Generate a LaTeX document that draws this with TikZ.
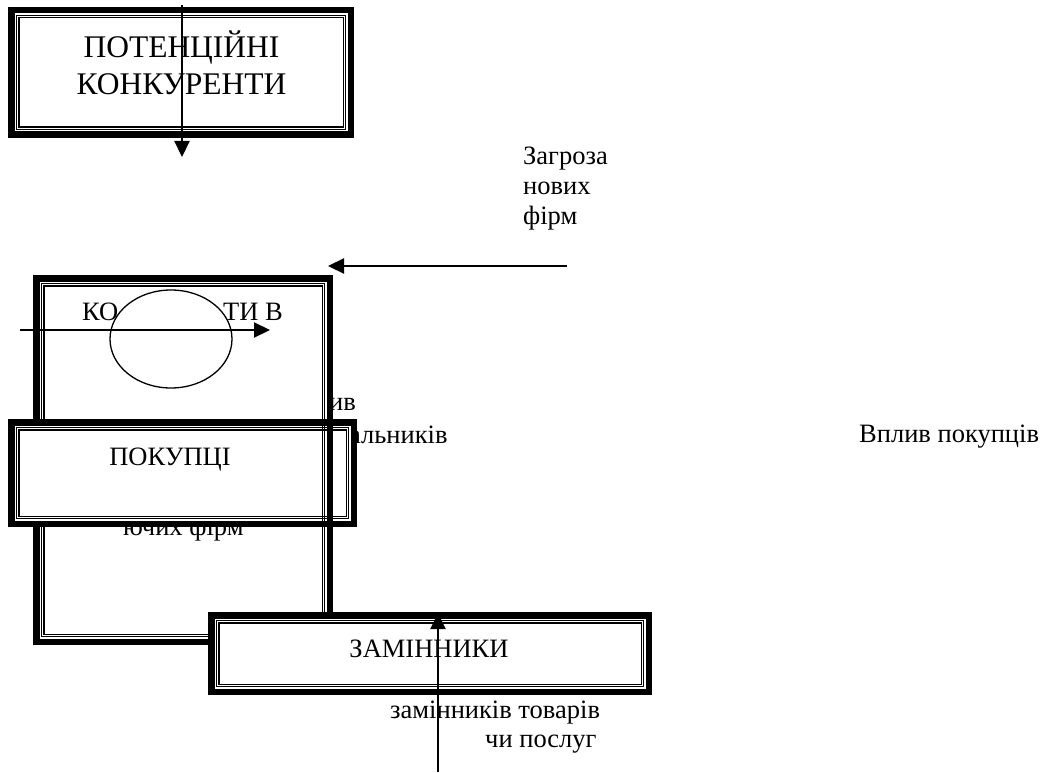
\documentclass[tikz,border=0pt]{standalone}
\usepackage{fontspec}
\setmainfont{Liberation Serif}
\usetikzlibrary{arrows.meta,calc,shapes.geometric}

\tikzset{
  framebox/.style={draw, fill=white, line width=6.5pt, rectangle, outer sep=0pt, inner sep=0pt},
  rulethin/.style={line width=0.7pt},
  rulemid/.style={line width=1.3pt},
  caption/.style={inner sep=0pt, font=\fontsize{26.5pt}{30pt}\selectfont},
  bigtitle/.style={inner sep=0pt, font=\fontsize{31.5pt}{37pt}\selectfont},
  force/.style={line width=2.2pt, -{Triangle[length=16pt,width=15pt]}},
  oval/.style={draw, ellipse, fill=white, line width=1.3pt, inner sep=0pt},
}

% thick-thin framed box given by its outer edges: name, x1, y1, x2, y2
\newcommand\forcebox[5]{%
  \node[framebox, minimum width={#4-#2-6.5}, minimum height={#5-#3-6.5}]
    (#1) at ({(#2+#4)/2},{(#3+#5)/2}) {};
  \draw[rulethin] ($(#1.north west)+(5.45,5.45)$) rectangle ($(#1.south east)-(5.45,5.45)$);
  \draw[rulemid]  ($(#1.north west)+(7.6,7.6)$) rectangle ($(#1.south east)-(7.6,7.6)$);
}

\begin{document}
\begin{tikzpicture}[x=1pt, y=-1pt]
  \fill[white] (0,0) rectangle (1042,773);
  \useasboundingbox (0,0) rectangle (1042,773);

  % potential entrants
  \forcebox{entrants}{8}{7}{354}{138}
  \node[bigtitle, anchor=base] (entrantsA) at (181.5,58) {ПОТЕНЦІЙНІ};
  \node[bigtitle, anchor=base] (entrantsB) at (181.5,95) {КОНКУРЕНТИ};
  \coordinate (a1s) at (182,5);
  \coordinate (a1e) at (182,157);
  \draw[force] (a1s) -- (a1e);

  % threat of new firms
  \node[caption, anchor=base west] (threatA) at (523,165) {Загроза};
  \node[caption, anchor=base west] (threatB) at (523,195) {нових};
  \node[caption, anchor=base west] (threatC) at (523,225) {фірм};
  \coordinate (a2s) at (567,266);
  \coordinate (a2e) at (328,266);
  \draw[force] (a2s) -- (a2e);

  % supplier power label, partly behind the boxes
  \node[caption, anchor=base east] (supA) at (356,410) {ив};

  % rivals in the industry
  \forcebox{rivals}{33}{275}{333}{645}
  \node[caption, anchor=base west] (rivalsA) at (82,320) {КО};
  \node[caption, anchor=base east] (rivalsB) at (283,320) {ТИ В};
  \node[oval, minimum width=122pt, minimum height=98pt] (ring) at (171,339) {};
  \coordinate (a3s) at (20,330);
  \coordinate (a3e) at (270,330);
  \draw[force] (a3s) -- (a3e);

  \node[caption, anchor=base west] (supB) at (349,443) {альників};
  \node[caption, anchor=base west] (rivalsC) at (123,535) {ючих фірм};

  % buyers
  \forcebox{buyers}{8}{419}{357}{527}
  \node[caption, anchor=base] (buyersT) at (170,465) {ПОКУПЦІ};

  % right edge of the rivals box runs over the buyers box
  \draw[line width=6.5pt] (rivals.north east) -- (rivals.south east);
  \draw[rulethin] ($(rivals.north east)+(-5.45,5.45)$) -- ($(rivals.south east)+(-5.45,-5.45)$);
  \draw[rulemid]  ($(rivals.north east)+(-7.6,7.6)$) -- ($(rivals.south east)+(-7.6,-7.6)$);

  % substitutes
  \forcebox{subst}{208}{612}{652}{695}
  \node[caption, anchor=base] (substT) at (429,657) {ЗАМІННИКИ};
  \node[caption, anchor=base west] (substA) at (390,718) {замінників товарів};
  \node[caption, anchor=base west] (substB) at (485,747) {чи послуг};
  \coordinate (a4s) at (438,772);
  \coordinate (a4e) at (438,613);
  \draw[force] (a4s) -- (a4e);

  % buyer power
  \node[caption, anchor=base west] (buyPow) at (859,442) {Вплив покупців};
\end{tikzpicture}
\end{document}
